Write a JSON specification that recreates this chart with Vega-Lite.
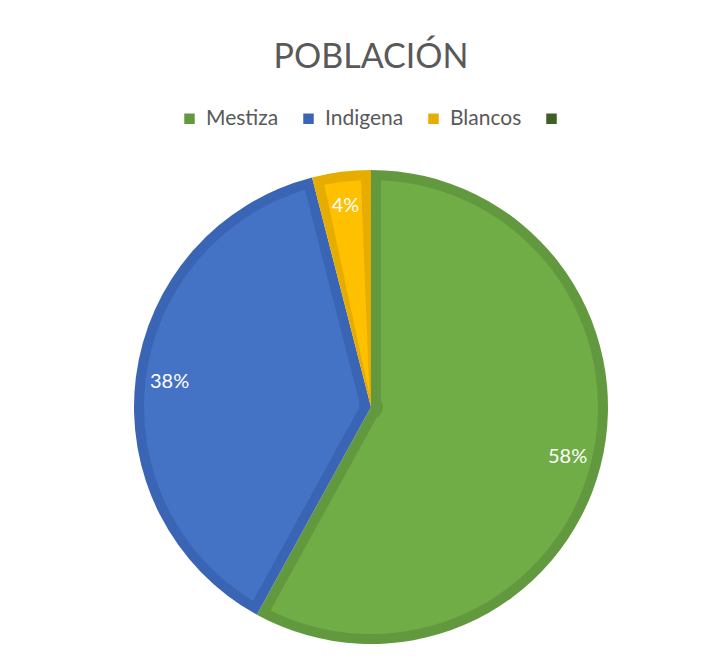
{
  "$schema": "https://vega.github.io/schema/vega-lite/v6.json",
  "width": 704,
  "height": 520,
  "autosize": "none",
  "padding": {"left": 19, "top": 147, "right": 0, "bottom": 0},
  "background": "white",
  "title": {
    "text": "POBLACIÓN",
    "font": "Lato",
    "fontSize": 34,
    "fontWeight": "normal",
    "color": "#595959",
    "anchor": "middle",
    "frame": "group",
    "orient": "top",
    "offset": 33
  },
  "data": {
    "values": [
      {"grupo": "Mestiza", "valor": 58, "orden": 1},
      {"grupo": "Indigena", "valor": 38, "orden": 2},
      {"grupo": "Blancos", "valor": 4, "orden": 3},
      {"grupo": "", "valor": 0, "orden": 4}
    ]
  },
  "config": {"view": {"stroke": null}},
  "layer": [
    {
      "mark": {"type": "arc", "outerRadius": 237, "stroke": null},
      "encoding": {
        "theta": {"field": "valor", "type": "quantitative", "stack": true},
        "order": {"field": "orden", "type": "quantitative"},
        "color": {
          "field": "grupo",
          "type": "nominal",
          "sort": ["Mestiza", "Indigena", "Blancos", ""],
          "scale": {
            "domain": ["Mestiza", "Indigena", "Blancos", ""],
            "range": ["#63993E", "#3A65B4", "#E6AC00", "#3E5F26"]
          },
          "legend": {
            "title": null,
            "orient": "none",
            "direction": "horizontal",
            "legendX": 160,
            "legendY": -39,
            "symbolType": "square",
            "symbolSize": 110,
            "symbolStrokeWidth": 0,
            "labelFont": "Lato",
            "labelFontSize": 21,
            "labelColor": "#595959",
            "labelOffset": 6,
            "columnPadding": 19,
            "labelLimit": 200
          }
        }
      }
    },
    {
      "mark": {"type": "arc", "outerRadius": 227, "innerRadius": 12, "padAngle": 0.088, "stroke": null},
      "encoding": {
        "theta": {"field": "valor", "type": "quantitative", "stack": true},
        "order": {"field": "orden", "type": "quantitative"},
        "fill": {
          "field": "grupo",
          "type": "nominal",
          "scale": {
            "domain": ["Mestiza", "Indigena", "Blancos", ""],
            "range": ["#70AD47", "#4472C4", "#FFC000", "#43682B"]
          },
          "legend": null
        }
      }
    },
    {
      "transform": [{"filter": "datum.valor > 0"}],
      "mark": {"type": "text", "radius": 203, "font": "Lato", "fontSize": 20, "color": "white", "align": "center", "baseline": "middle"},
      "encoding": {
        "theta": {"field": "valor", "type": "quantitative", "stack": true},
        "order": {"field": "orden", "type": "quantitative"},
        "text": {"field": "etiqueta", "type": "nominal"}
      }
    }
  ],
  "transform": [{"calculate": "datum.valor + '%'", "as": "etiqueta"}]
}
